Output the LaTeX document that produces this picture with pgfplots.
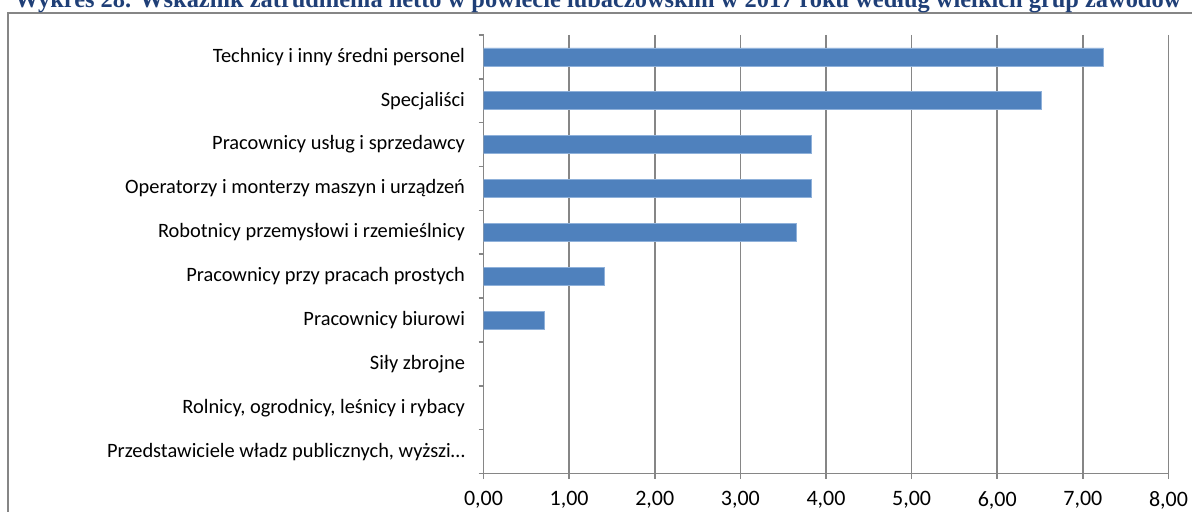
\documentclass[border=0pt]{standalone}
\usepackage{fontspec}
\setmainfont{Carlito}
\newfontfamily\titlefont{Liberation Serif}
\usepackage{pgfplots}
\pgfplotsset{compat=1.18}
\definecolor{barblue}{HTML}{4F81BD}
\definecolor{baredge}{HTML}{8FB1DA}
\definecolor{gridgray}{HTML}{868686}
\definecolor{titleblue}{HTML}{1F3F77}
\begin{document}
\begin{tikzpicture}
\useasboundingbox (0pt,0pt) rectangle (596pt,256pt);
\draw[gridgray, line width=0.8pt] (4pt,-5pt) rectangle (600pt,249.5pt);
\node[anchor=base, inner sep=0pt, font=\titlefont\bfseries\fontsize{12.2}{14}\selectfont, text=titleblue] at (299pt,252pt) {Wykres 28. Wskaźnik zatrudnienia netto w powiecie lubaczowskim w 2017 roku według wielkich grup zawodów};
\begin{axis}[
  at={(241.75pt,19.25pt)}, anchor=south west,
  width=342.5pt, height=219.25pt, scale only axis,
  xmin=0, xmax=8, ymin=-0.5, ymax=9.5, y dir=reverse,
  xbar, bar width=9pt,
  axis x line*=bottom, axis y line*=left,
  axis line style={gridgray, line width=0.8pt},
  xmajorgrids, grid style={gridgray, line width=0.8pt},
  xtick={0,1,...,8},
  tick align=outside,
  major tick length=2.5pt,
  minor tick length=2.5pt,
  x tick style={gridgray, line width=0.8pt},
  ytick={0,1,...,9},
  y tick style={draw=none},
  minor ytick={-0.5,0.5,...,9.5},
  minor y tick style={draw=gridgray, line width=0.8pt},
  yticklabels={Technicy i inny średni personel, Specjaliści, Pracownicy usług i sprzedawcy, Operatorzy i monterzy maszyn i urządzeń, Robotnicy przemysłowi i rzemieślnicy, Pracownicy przy pracach prostych, Pracownicy biurowi, Siły zbrojne, {Rolnicy, ogrodnicy, leśnicy i rybacy}, {Przedstawiciele władz publicznych, wyższi\ldots}},
  yticklabel style={font=\fontsize{10.2}{12}\selectfont, xshift=-3.25pt},
  xticklabel style={font=\fontsize{11}{13}\selectfont, yshift=-3pt},
  /pgf/number format/.cd, fixed, fixed zerofill, precision=2, use comma, assume math mode=true,
]
\addplot[fill=barblue, draw=baredge, line width=0.4pt] coordinates {
 (7.24,0) (6.51,1) (3.83,2) (3.83,3) (3.65,4) (1.41,5) (0.71,6)
};
\end{axis}
\end{tikzpicture}
\end{document}
